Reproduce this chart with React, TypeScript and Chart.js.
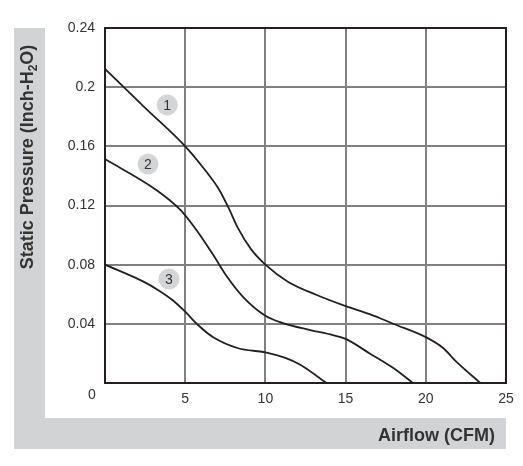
import React, { useEffect, useRef } from "react";
import { Chart, registerables } from "chart.js";

Chart.register(...registerables);

// Curve 1
const curve1X = [0, 2.5, 5, 6.2, 7.1, 7.7, 8.3, 9.1, 10, 11.4, 13.2, 15, 16.5, 18, 20, 21.1, 21.9, 23.4];
const curve1Y = [0.2123, 0.186, 0.16, 0.1445, 0.131, 0.1185, 0.1045, 0.0905, 0.08, 0.0685, 0.0595, 0.052, 0.0466, 0.0399, 0.031, 0.0235, 0.0144, 0];
// Curve 2
const curve2X = [0, 3.2, 4.7, 5.7, 6.75, 7.6, 8.6, 10, 11.1, 12.8, 14.2, 15, 16.5, 18, 19.2];
const curve2Y = [0.1514, 0.1305, 0.117, 0.1034, 0.0865, 0.072, 0.0583, 0.0455, 0.0405, 0.0358, 0.0324, 0.0298, 0.02, 0.0099, 0];
// Curve 3
const curve3X = [0, 2.4, 3.3, 4.2, 5, 5.8, 6.75, 8.3, 10, 11.2, 12.2, 13.8];
const curve3Y = [0.08, 0.0685, 0.0629, 0.0561, 0.0482, 0.0392, 0.0309, 0.0235, 0.0207, 0.0171, 0.0122, 0];

// Curve number markers
const markerLabels = ["1", "2", "3"];
const markerX = [3.88, 2.68, 3.99];
const markerY = [0.188, 0.148, 0.0703];

const xTickValues = [0, 5, 10, 15, 20, 25];
const yTickValues = [0, 0.04, 0.08, 0.12, 0.16, 0.2, 0.24];

const yTitleMain = "Static Pressure (Inch-H";
const yTitleSub = "2";
const yTitleEnd = "O)";
const xTitle = "Airflow (CFM)";
const cornerLabel = "0";

const FONT = '"Liberation Sans", Arial, Helvetica, sans-serif';
const TEXT = "#333333";
const PANEL = "#d2d3d5";

const zip = (xs: number[], ys: number[]) => xs.map((x, i) => ({ x, y: ys[i] }));

const decorPlugin = {
  id: "decor",
  beforeDraw(chart: any) {
    const ctx = chart.ctx;
    ctx.save();
    ctx.fillStyle = PANEL;
    ctx.fillRect(14, 28, 31, 421);
    ctx.fillRect(14, 418, 492, 31);
    ctx.restore();
  },
  afterDraw(chart: any) {
    const ctx = chart.ctx;
    const a = chart.chartArea;
    ctx.save();
    // plot border
    ctx.strokeStyle = "#231f20";
    ctx.lineWidth = 2;
    ctx.strokeRect(a.left, a.top, a.right - a.left, a.bottom - a.top);

    // corner "0"
    ctx.fillStyle = TEXT;
    ctx.font = `14px ${FONT}`;
    ctx.textAlign = "center";
    ctx.textBaseline = "middle";
    ctx.fillText(cornerLabel, a.left - 13, a.bottom + 12);

    // x title
    ctx.font = `bold 18px ${FONT}`;
    ctx.textAlign = "right";
    ctx.fillText(xTitle, 495, 436);

    // y title with subscript
    ctx.translate(26, 157);
    ctx.rotate(-Math.PI / 2);
    const big = `bold 18px ${FONT}`;
    const small = `bold 12px ${FONT}`;
    ctx.font = big;
    const w1 = ctx.measureText(yTitleMain).width;
    const w3 = ctx.measureText(yTitleEnd).width;
    ctx.font = small;
    const w2 = ctx.measureText(yTitleSub).width;
    let x = -(w1 + w2 + w3) / 2;
    ctx.textAlign = "left";
    ctx.textBaseline = "alphabetic";
    ctx.font = big;
    ctx.fillText(yTitleMain, x, 7);
    x += w1;
    ctx.font = small;
    ctx.fillText(yTitleSub, x, 11);
    x += w2;
    ctx.font = big;
    ctx.fillText(yTitleEnd, x, 7);
    ctx.restore();
  },
  afterDatasetsDraw(chart: any) {
    const ctx = chart.ctx;
    const meta = chart.getDatasetMeta(3);
    ctx.save();
    ctx.fillStyle = TEXT;
    ctx.font = `14px ${FONT}`;
    ctx.textAlign = "center";
    ctx.textBaseline = "middle";
    meta.data.forEach((el: any, i: number) => {
      ctx.fillText(markerLabels[i], el.x, el.y + 1);
    });
    ctx.restore();
  },
};

const lineStyle = {
  borderColor: "#231f20",
  borderWidth: 1.8,
  pointRadius: 0,
  fill: false,
  cubicInterpolationMode: "monotone" as const,
};

export default function App() {
  const ref = useRef<HTMLCanvasElement | null>(null);
  useEffect(() => {
    document.body.style.margin = "0";
    const canvas = ref.current!;
    const chart = new Chart(canvas, {
      type: "line",
      data: {
        datasets: [
          { ...lineStyle, label: "1", data: zip(curve1X, curve1Y) },
          { ...lineStyle, label: "2", data: zip(curve2X, curve2Y) },
          { ...lineStyle, label: "3", data: zip(curve3X, curve3Y) },
          {
            type: "scatter",
            label: "markers",
            data: zip(markerX, markerY),
            showLine: false,
            pointRadius: 10.5,
            pointBackgroundColor: "#d4d5d7",
            pointBorderWidth: 0,
            borderWidth: 0,
          } as any,
        ],
      },
      options: {
        responsive: false,
        animation: false,
        events: [],
        layout: { padding: { top: 28, right: 17, left: 0, bottom: 0 } },
        plugins: { legend: { display: false }, tooltip: { enabled: false } },
        scales: {
          x: {
            type: "linear",
            min: 0,
            max: 25,
            afterBuildTicks: (s: any) => {
              s.ticks = xTickValues.map((v) => ({ value: v }));
            },
            afterFit: (s: any) => {
              s.height = 83;
            },
            ticks: {
              callback: (v: any) => (Number(v) === 0 ? "" : String(v)),
              color: TEXT,
              font: { family: FONT, size: 14 },
              padding: 8,
              maxRotation: 0,
            },
            grid: { color: "#808080", lineWidth: 2, drawTicks: false },
            border: { display: false },
          },
          y: {
            type: "linear",
            min: 0,
            max: 0.24,
            afterBuildTicks: (s: any) => {
              s.ticks = yTickValues.map((v) => ({ value: v }));
            },
            afterFit: (s: any) => {
              s.width = 105;
            },
            ticks: {
              callback: (v: any) => (Number(v) === 0 ? "" : String(parseFloat(Number(v).toFixed(2)))),
              color: TEXT,
              font: { family: FONT, size: 14 },
              padding: 10,
            },
            grid: { color: "#808080", lineWidth: 2, drawTicks: false },
            border: { display: false },
          },
        },
      },
      plugins: [decorPlugin],
    });
    return () => chart.destroy();
  }, []);
  return (
    <canvas
      ref={ref}
      width={523}
      height={466}
      style={{ position: "absolute", left: 0, top: 0, display: "block" }}
    />
  );
}
